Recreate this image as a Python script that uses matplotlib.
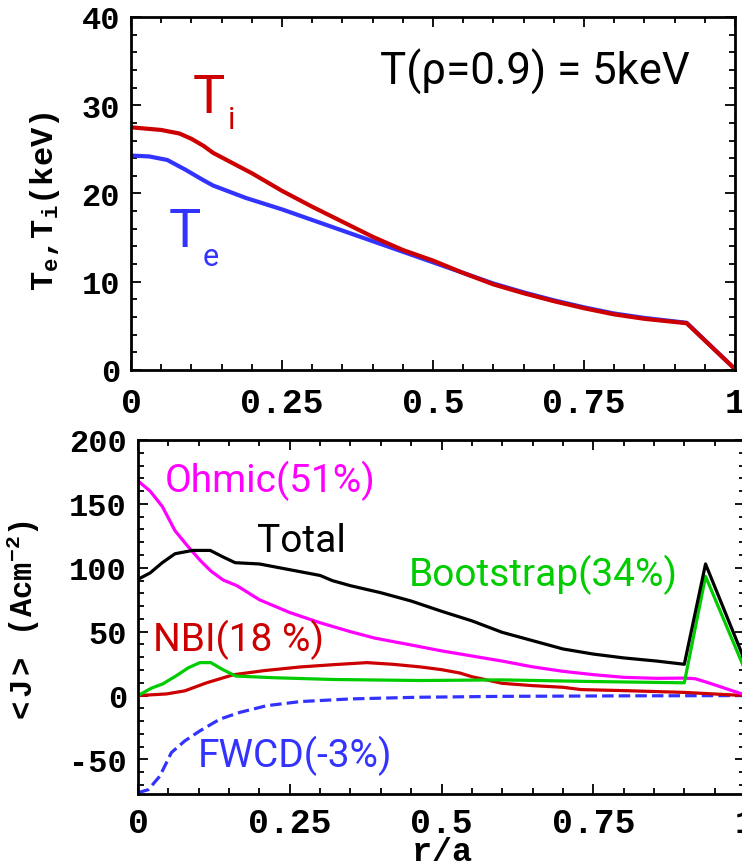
import matplotlib
matplotlib.use("Agg")
import matplotlib.pyplot as plt
from matplotlib import font_manager as fm
from matplotlib.ticker import MultipleLocator, FixedLocator, FixedFormatter

# ---------------- data ----------------
ti_x = [0, 0.05, 0.08, 0.10, 0.12, 0.136, 0.20, 0.25, 0.30, 0.35, 0.40, 0.45,
        0.50, 0.55, 0.60, 0.65, 0.70, 0.75, 0.80, 0.85, 0.92, 1.0]
ti_y = [27.5, 27.2, 26.8, 26.2, 25.4, 24.6, 22.3, 20.3, 18.5, 16.8, 15.1, 13.6,
        12.4, 11.0, 9.7, 8.7, 7.8, 7.0, 6.3, 5.8, 5.3, 0.1]

te_x = [0, 0.03, 0.06, 0.09, 0.12, 0.136, 0.19, 0.25, 0.30, 0.35, 0.40, 0.45,
        0.50, 0.55, 0.60, 0.65, 0.70, 0.75, 0.80, 0.85, 0.92, 1.0]
te_y = [24.3, 24.2, 23.8, 22.7, 21.5, 20.9, 19.5, 18.2, 17.0, 15.8, 14.6, 13.4,
        12.2, 11.0, 9.8, 8.8, 7.9, 7.1, 6.4, 5.9, 5.35, 0.1]

ohm_x = [0, 0.02, 0.04, 0.061, 0.08, 0.102, 0.12, 0.14, 0.163, 0.20, 0.25, 0.30,
         0.35, 0.39, 0.45, 0.50, 0.55, 0.60, 0.65, 0.70, 0.75, 0.80, 0.855,
         0.90, 0.918, 0.94, 1.0]
ohm_y = [168, 160, 148, 129, 118, 106, 97.5, 90.5, 86, 75, 65, 57, 50, 45,
         39.6, 35, 31, 27, 22.5, 19, 16.4, 14.3, 13.5, 13.7, 13.2, 10, 0.5]

tot_x = [0, 0.02, 0.04, 0.061, 0.09, 0.119, 0.14, 0.16, 0.20, 0.25, 0.30, 0.32,
         0.35, 0.40, 0.45, 0.50, 0.55, 0.60, 0.65, 0.70, 0.75, 0.80, 0.855,
         0.90, 0.935, 1.0]
tot_y = [91, 96, 104, 111, 113.6, 113.6, 108.5, 104, 103, 98.5, 94, 90, 86,
         80.5, 74, 66, 58.5, 49.5, 43, 36.5, 32.5, 29.5, 27, 24.5, 103, 27]

bs_x = [0, 0.022, 0.041, 0.064, 0.083, 0.102, 0.12, 0.139, 0.161, 0.223,
        0.322, 0.466, 0.60, 0.75, 0.90, 0.935, 1.0]
bs_y = [0, 5.8, 9.2, 15.8, 21.8, 25.8, 25.8, 20.5, 15.3, 14.0, 12.6, 11.8,
        12.3, 11.0, 10.0, 93.3, 20]

nbi_x = [0, 0.047, 0.077, 0.113, 0.157, 0.207, 0.267, 0.322, 0.377, 0.42,
         0.466, 0.50, 0.53, 0.55, 0.58, 0.60, 0.65, 0.70, 0.73, 0.80, 0.90, 1.0]
nbi_y = [0, 1.3, 3.7, 10, 16.3, 19.5, 22.4, 24.2, 25.8, 24.5, 22.4, 20.3,
         17.7, 14.8, 11.7, 9.6, 7.8, 6.5, 4.7, 3.9, 2.5, 0]

fw_x = [0, 0.017, 0.036, 0.055, 0.077, 0.102, 0.135, 0.168, 0.212, 0.267,
        0.35, 0.46, 0.60, 0.80, 1.0]
fw_y = [-76, -73.6, -63, -44.6, -35.5, -27.6, -18.4, -13.1, -7.9, -4.7,
        -2.6, -1.3, -0.6, -0.2, 0]

x_ticks = [0, 0.25, 0.5, 0.75, 1.0]
x_ticklabels = ['0', '0.25', '0.5', '0.75', '1']
t_ticks = [0, 10, 20, 30, 40]
j_ticks = [-50, 0, 50, 100, 150, 200]

# ---------------- style ----------------
RED = '#cc0000'
BLUE = '#3333ff'
GREEN = '#00cc00'
MAGENTA = '#ff00ff'

names = {f.name for f in fm.fontManager.ttflist}
SANS = ['Roboto', 'DejaVu Sans'] if 'Roboto' in names else ['DejaVu Sans']
MONO = 'Liberation Mono' if 'Liberation Mono' in names else 'DejaVu Sans Mono'

plt.rcParams['mathtext.fontset'] = 'custom'
plt.rcParams['mathtext.rm'] = MONO + ':bold'
plt.rcParams['mathtext.bf'] = MONO + ':bold'
plt.rcParams['mathtext.it'] = MONO + ':bold'
plt.rcParams['mathtext.default'] = 'bf'
plt.rcParams['axes.unicode_minus'] = False

fig = plt.figure(figsize=(7.42, 8.62), dpi=100)
W, H = 742.0, 862.0
ax1 = fig.add_axes([131 / W, 1 - 371 / H, 604 / W, 353 / H])
ax2 = fig.add_axes([138 / W, 1 - 795 / H, 607 / W, 354 / H])


def style_axis(ax, ylim, yticks, yminor, xpad):
    ax.set_xlim(0, 1)
    ax.set_ylim(*ylim)
    ax.xaxis.set_major_locator(FixedLocator(x_ticks))
    ax.xaxis.set_major_formatter(FixedFormatter(x_ticklabels))
    ax.xaxis.set_minor_locator(MultipleLocator(0.05))
    ax.yaxis.set_major_locator(FixedLocator(yticks))
    ax.yaxis.set_minor_locator(MultipleLocator(yminor))
    for s in ax.spines.values():
        s.set_linewidth(2.0)
    ax.tick_params(which='both', direction='in', top=True, right=True,
                   width=1.3, color='black')
    ax.tick_params(which='major', length=7.2)
    ax.tick_params(which='minor', length=4)
    ax.tick_params(axis='y', which='major', pad=8)
    ax.tick_params(axis='x', which='major', pad=xpad)
    for lab in ax.get_yticklabels():
        lab.set_fontfamily(MONO)
        lab.set_fontweight('bold')
        lab.set_fontsize(23)
    for lab in ax.get_xticklabels():
        lab.set_fontfamily(MONO)
        lab.set_fontweight('bold')
        lab.set_fontsize(25)


# ---------------- top panel ----------------
ax1.plot(te_x, te_y, color=BLUE, lw=3.0, solid_joinstyle='round')
ax1.plot(ti_x, ti_y, color=RED, lw=3.0, solid_joinstyle='round')
style_axis(ax1, (0, 40), t_ticks, 2, 11.5)
ax1.set_ylabel(r'$\mathbf{T_e{,}T_i(keV)}$', fontsize=23)
ax1.yaxis.set_label_coords(-0.114, 0.48)

ax1.text(0.412, 32.4, 'T(\u03c1=0.9) = 5keV', family=SANS, fontsize=31.5,
         color='black', ha='left', va='baseline')
ax1.text(0.1026, 29.2, 'T', family=SANS, fontsize=39, color=RED,
         ha='left', va='baseline')
ax1.text(0.1606, 27.4, 'i', family=SANS, fontsize=22, color=RED,
         ha='left', va='baseline')
ax1.text(0.063, 14.05, 'T', family=SANS, fontsize=39, color=BLUE,
         ha='left', va='baseline')
ax1.text(0.119, 11.9, 'e', family=SANS, fontsize=22, color=BLUE,
         ha='left', va='baseline')

# ---------------- bottom panel ----------------
ax2.plot(fw_x, fw_y, color=BLUE, lw=2.3, dashes=(3.6, 1.6))
ax2.plot(nbi_x, nbi_y, color=RED, lw=2.3)
ax2.plot(ohm_x, ohm_y, color=MAGENTA, lw=2.3)
ax2.plot(bs_x, bs_y, color=GREEN, lw=2.3)
ax2.plot(tot_x, tot_y, color='black', lw=2.3)
style_axis(ax2, (-77, 200), j_ticks, 10, 8.3)
ax2.set_ylabel(r'$\mathbf{<J>\ \ \ (Acm^{-2})}$', fontsize=22)
ax2.yaxis.set_label_coords(-0.158, 0.489)
ax2.set_xlabel(r'$\mathbf{r/a}$', fontsize=24, labelpad=-3.5)

ax2.text(0.0445, 160.4, 'Ohmic(51%)', family=SANS, fontsize=28,
         color=MAGENTA, va='baseline')
ax2.text(0.196, 113.3, 'Total', family=SANS, fontsize=28,
         color='black', va='baseline')
ax2.text(0.446, 86.8, 'Bootstrap(34%)', family=SANS, fontsize=28,
         color=GREEN, va='baseline')
ax2.text(0.0247, 35.3, 'NBI(18 %)', family=SANS, fontsize=28,
         color=RED, va='baseline')
ax2.text(0.0988, -55.4, 'FWCD(-3%)', family=SANS, fontsize=28,
         color=BLUE, va='baseline')

fig.savefig('out.png', dpi=100)
